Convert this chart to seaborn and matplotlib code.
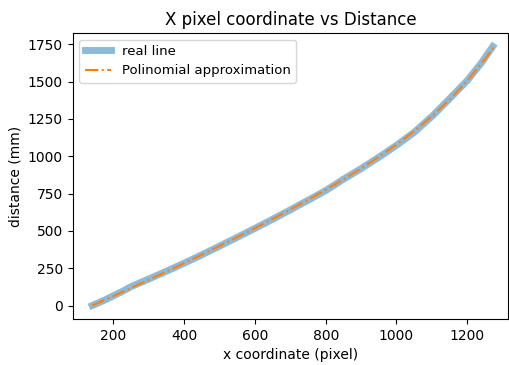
import matplotlib
matplotlib.use("Agg")
import matplotlib.pyplot as plt
import seaborn as sns
import pandas as pd
import numpy as np

# Measured pixel positions and distances, recorded in four calibration runs
seg1_x = [140, 180, 227]
seg1_y = [0, 42, 88]
seg2_x = [227, 250, 300, 350, 400, 450, 500, 550, 600, 650, 700, 750, 800, 826]
seg2_y = [106, 127, 178, 230, 284, 340, 398, 457, 517, 578, 641, 705, 770, 800]
seg3_x = [826, 850, 900, 950, 1000, 1050, 1103]
seg3_y = [818, 846, 917, 993, 1073, 1160, 1262]
seg4_x = [1103, 1150, 1200, 1240, 1272]
seg4_y = [1284, 1385, 1507, 1625, 1735]

# Polynomial approximation evaluated on a grid of pixel positions
approx_x = [140, 200, 250, 300, 350, 400, 450, 500, 550, 600, 650, 700,
            750, 800, 850, 900, 950, 1000, 1050, 1100, 1150, 1200, 1250, 1275]
approx_y = [0, 64, 118, 173, 228, 284, 341, 399, 458, 518, 580, 643,
            708, 775, 845, 918, 995, 1078, 1168, 1268, 1380, 1505, 1650, 1730]

real_x = seg1_x + seg2_x + seg3_x + seg4_x
real_y = seg1_y + seg2_y + seg3_y + seg4_y

real = pd.DataFrame({"x": real_x, "y": real_y})
approx = pd.DataFrame({"x": approx_x, "y": approx_y})

fig = plt.figure(figsize=(5.1, 3.65), dpi=100)
ax = fig.add_axes([0.1426, 0.126, 0.9960 - 0.1426, 0.9096 - 0.126])

sns.lineplot(data=real, x="x", y="y", sort=False, ax=ax, color="C0",
             linewidth=5, alpha=0.5, label="real line")
sns.lineplot(data=approx, x="x", y="y", sort=False, ax=ax, color="C1",
             linewidth=1.5, linestyle="-.", label="Polinomial approximation")

ax.set_xlim(85, 1315)
ax.set_ylim(-90, 1825)
ax.set_xticks([200, 400, 600, 800, 1000, 1200])
ax.set_yticks([0, 250, 500, 750, 1000, 1250, 1500, 1750])
ax.set_title("X pixel coordinate vs Distance", fontsize=12)
ax.set_xlabel("x coordinate (pixel)")
ax.set_ylabel("distance (mm)")
ax.legend(loc="upper left", fontsize=9.5)

fig.savefig("out.png", dpi=100)
